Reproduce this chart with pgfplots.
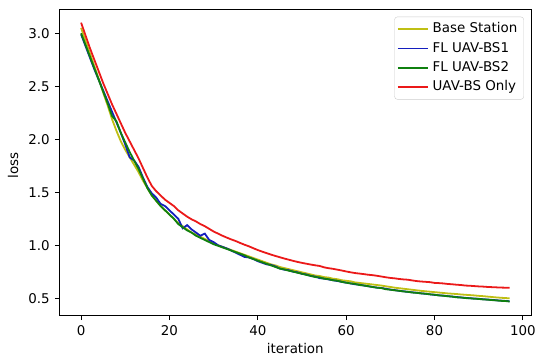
\documentclass[border=0pt]{standalone}
\usepackage{pgfplots}
\usepackage{pgfplotstable}
\pgfplotsset{compat=1.18}
\usepackage{fontspec}
\setmainfont{DejaVu Sans}
\definecolor{myyel}{RGB}{191,191,20}
\definecolor{myblu}{RGB}{20,30,190}
\definecolor{mygrn}{RGB}{15,128,15}
\definecolor{myred}{RGB}{235,25,25}
\pgfplotstableread{
x Y B G R
0 3.05 2.99 3.00 3.10
1 2.93 2.88 2.89 2.98
2 2.81 2.77 2.78 2.86
3 2.69 2.66 2.67 2.75
4 2.57 2.56 2.56 2.64
5 2.44 2.46 2.45 2.53
6 2.32 2.36 2.34 2.43
7 2.19 2.26 2.22 2.33
8 2.08 2.16 2.17 2.24
9 1.98 2.06 2.06 2.15
10 1.90 1.95 1.97 2.06
11 1.83 1.83 1.88 1.98
12 1.76 1.80 1.80 1.90
13 1.69 1.74 1.72 1.82
14 1.61 1.64 1.63 1.73
15 1.54 1.55 1.54 1.64
16 1.47 1.49 1.47 1.56
17 1.42 1.45 1.42 1.51
18 1.37 1.39 1.37 1.47
19 1.33 1.37 1.33 1.43
20 1.29 1.33 1.29 1.40
21 1.25 1.29 1.25 1.37
22 1.21 1.25 1.20 1.33
23 1.18 1.16 1.17 1.30
24 1.15 1.19 1.14 1.27
25 1.12 1.15 1.12 1.245
26 1.10 1.12 1.09 1.225
27 1.08 1.09 1.07 1.20
28 1.06 1.11 1.05 1.18
29 1.04 1.05 1.03 1.155
30 1.02 1.03 1.01 1.13
31 1.00 1.00 0.995 1.11
32 0.985 0.985 0.98 1.09
33 0.97 0.97 0.965 1.072
34 0.955 0.95 0.95 1.055
35 0.94 0.93 0.935 1.04
36 0.925 0.91 0.92 1.022
37 0.91 0.89 0.905 1.005
38 0.895 0.885 0.885 0.99
39 0.88 0.87 0.87 0.972
40 0.865 0.85 0.855 0.955
41 0.85 0.835 0.84 0.94
42 0.835 0.82 0.825 0.926
43 0.82 0.815 0.81 0.912
44 0.81 0.80 0.795 0.899
45 0.795 0.78 0.78 0.887
46 0.785 0.77 0.772 0.875
47 0.775 0.765 0.76 0.864
48 0.765 0.75 0.752 0.853
49 0.755 0.745 0.74 0.843
50 0.745 0.73 0.732 0.834
51 0.735 0.725 0.72 0.826
52 0.725 0.71 0.712 0.818
53 0.715 0.705 0.70 0.811
54 0.71 0.69 0.697 0.805
55 0.70 0.685 0.685 0.792
56 0.695 0.678 0.68 0.784
57 0.685 0.67 0.67 0.778
58 0.68 0.663 0.666 0.77
59 0.67 0.655 0.655 0.762
60 0.665 0.647 0.647 0.753
61 0.66 0.64 0.64 0.745
62 0.65 0.632 0.636 0.738
63 0.645 0.628 0.625 0.733
64 0.64 0.62 0.621 0.728
65 0.635 0.613 0.614 0.722
66 0.63 0.607 0.606 0.718
67 0.625 0.60 0.60 0.712
68 0.62 0.597 0.596 0.705
69 0.613 0.59 0.585 0.698
70 0.607 0.582 0.581 0.692
71 0.60 0.577 0.575 0.688
72 0.595 0.57 0.571 0.682
73 0.59 0.566 0.564 0.678
74 0.585 0.56 0.561 0.675
75 0.58 0.556 0.554 0.668
76 0.575 0.552 0.551 0.662
77 0.57 0.546 0.546 0.658
78 0.566 0.542 0.543 0.655
79 0.562 0.537 0.537 0.652
80 0.558 0.532 0.534 0.645
81 0.554 0.528 0.527 0.643
82 0.55 0.525 0.524 0.64
83 0.546 0.52 0.519 0.635
84 0.543 0.516 0.516 0.632
85 0.54 0.512 0.509 0.628
86 0.536 0.508 0.507 0.625
87 0.533 0.504 0.502 0.62
88 0.53 0.50 0.50 0.618
89 0.527 0.498 0.496 0.615
90 0.523 0.495 0.494 0.612
91 0.52 0.491 0.489 0.61
92 0.516 0.488 0.487 0.607
93 0.512 0.485 0.483 0.605
94 0.508 0.481 0.48 0.603
95 0.505 0.478 0.476 0.601
96 0.502 0.475 0.474 0.60
97 0.50 0.472 0.47 0.60
}\losstable
\begin{document}
\begin{tikzpicture}[font=\fontsize{13.5bp}{16bp}\selectfont]
\useasboundingbox (-60bp,-46bp) rectangle (480bp,317bp);
\begin{axis}[
  scale only axis,
  width=474bp, height=307bp,
  xmin=-4.85, xmax=101.85,
  ymin=0.34, ymax=3.22,
  xtick={0,20,...,100},
  ytick={0.5,1.0,1.5,2.0,2.5,3.0},
  xtick pos=bottom, ytick pos=left,
  tick align=outside,
  major tick length=4.8bp,
  every tick/.style={black, line width=1bp},
  axis line style={black, line width=1bp},
  /pgf/number format/assume math mode=true,
  y tick label style={/pgf/number format/fixed, /pgf/number format/fixed zerofill, /pgf/number format/precision=1},
  xticklabel style={inner sep=0pt, anchor=north, yshift=-5bp},
  yticklabel style={inner sep=0pt, anchor=east, xshift=-5bp},
  xlabel={iteration},
  ylabel={loss},
  xlabel style={at={(axis description cs:0.5,-0.11)}, anchor=center},
  ylabel style={at={(axis description cs:-0.099,0.49)}, anchor=center},
  legend cell align=left,
  legend style={at={(axis description cs:0.985,0.978)}, anchor=north east,
    draw=black!20, rounded corners=3bp, inner sep=2.5bp,
    font=\fontsize{13.5bp}{16bp}\selectfont,
    nodes={inner xsep=4bp, inner ysep=3.5bp, text height=10bp, text depth=2.5bp},
    row sep=0pt},
  legend image code/.code={\draw[#1] (0bp,0bp) -- (30bp,0bp);},
  every axis plot/.append style={line width=1.8bp, mark=none},
]
\addplot[myyel] table[x=x,y=Y] {\losstable};
\addlegendentry{Base Station}
\addplot[myblu] table[x=x,y=B] {\losstable};
\addlegendentry{FL UAV-BS1}
\addplot[mygrn] table[x=x,y=G] {\losstable};
\addlegendentry{FL UAV-BS2}
\addplot[myred] table[x=x,y=R] {\losstable};
\addlegendentry{UAV-BS Only}
\end{axis}
\end{tikzpicture}
\end{document}
